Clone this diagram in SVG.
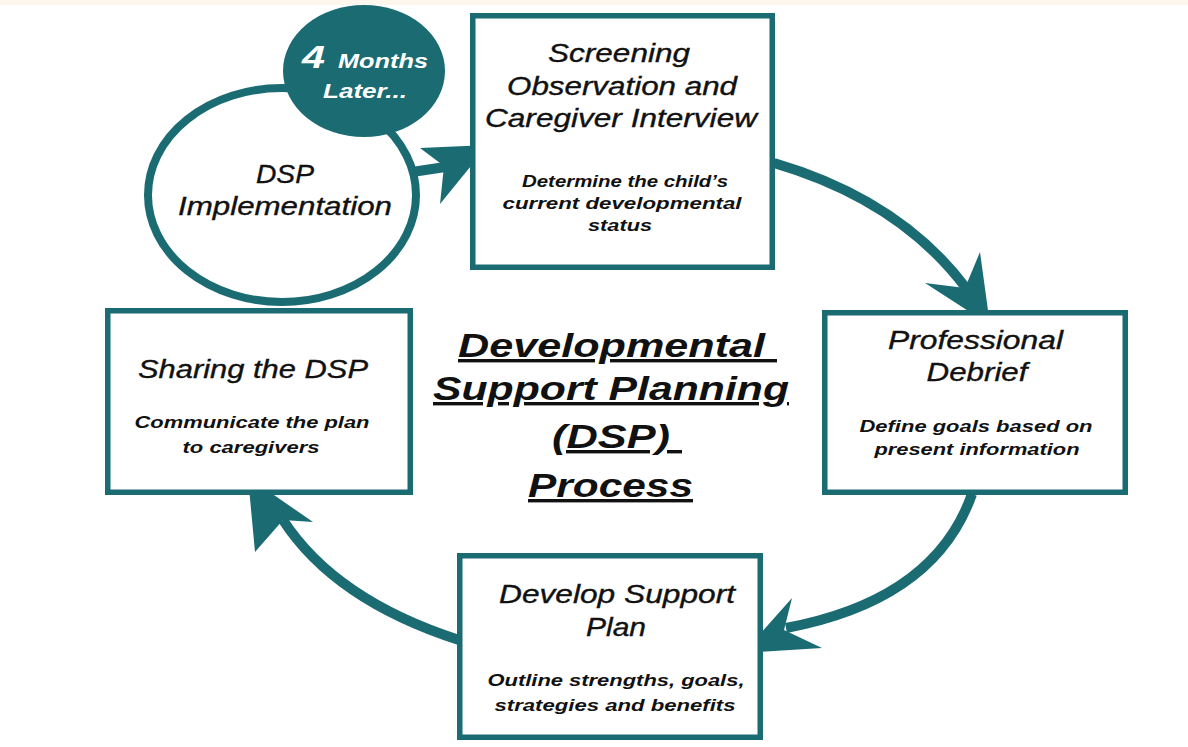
<svg xmlns="http://www.w3.org/2000/svg" width="1188" height="747" viewBox="0 0 1188 747">
<style>
.box{fill:#ffffff;stroke:#1b6b73;stroke-width:5.5}
.ell{fill:#ffffff;stroke:#1b6b73;stroke-width:8}
.dark{fill:#1b6b73}
.shaft{fill:none;stroke:#1b6b73;stroke-width:10;stroke-linecap:butt}
.head{fill:#1b6b73}
text{font-family:"Liberation Sans",Arial,Helvetica,sans-serif;font-style:italic;fill:#111111}
.h{font-size:25px;stroke:#111111;stroke-width:0.35}
.s{font-size:17px;font-weight:bold}
.t{font-size:34px;font-weight:bold;text-decoration:underline}
.w{fill:#ffffff;font-weight:bold}
</style>
<rect x="0" y="0" width="1188" height="747" fill="#ffffff"/>
<rect x="0" y="0" width="1188" height="5" fill="#fdf7ee"/>

<g id="node-implementation">
  <ellipse class="ell" cx="282" cy="195" rx="134" ry="107"/>
  <text class="h" x="285" y="183" text-anchor="middle" textLength="58" lengthAdjust="spacingAndGlyphs">DSP</text>
  <text class="h" x="285" y="215" text-anchor="middle" textLength="214" lengthAdjust="spacingAndGlyphs">Implementation</text>
</g>

<g id="node-months">
  <ellipse class="dark" cx="364" cy="71" rx="81" ry="66"/>
  <text class="w" x="302" y="68" font-size="32" textLength="23" lengthAdjust="spacingAndGlyphs">4</text>
  <text class="w" x="338" y="68" font-size="21" textLength="90" lengthAdjust="spacingAndGlyphs">Months</text>
  <text class="w" x="323" y="98" font-size="21" textLength="84" lengthAdjust="spacingAndGlyphs">Later...</text>
</g>

<g id="connectors">
  <!-- Implementation -> Screening -->
  <path class="shaft" d="M412,172 L452,166"/>
  <path class="head" d="M488,145 L420,148 L444,166 L440,204 Z"/>
  <!-- Screening -> Professional Debrief -->
  <path class="shaft" d="M774,163 Q900,200 966,288"/>
  <path class="head" d="M990,325 L980,252 L965,288 L925,283 Z"/>
  <!-- Professional Debrief -> Develop Support Plan -->
  <path class="shaft" d="M972,494 Q935,600 786,628"/>
  <path class="head" d="M743,653 L792,598 L784,630 L822,648 Z"/>
  <!-- Develop Support Plan -> Sharing -->
  <path class="shaft" d="M459,640 Q335,600 283,520"/>
  <path class="head" d="M248,477 L313,522 L283,520 L255,552 Z"/>
</g>

<g id="node-screening">
  <rect class="box" x="472.75" y="15.75" width="299.5" height="251.5"/>
  <text class="h" x="619" y="62" text-anchor="middle" textLength="142" lengthAdjust="spacingAndGlyphs">Screening</text>
  <text class="h" x="622" y="95" text-anchor="middle" textLength="230" lengthAdjust="spacingAndGlyphs">Observation and</text>
  <text class="h" x="621" y="127" text-anchor="middle" textLength="272" lengthAdjust="spacingAndGlyphs">Caregiver Interview</text>
  <text class="s" x="625" y="187" text-anchor="middle" textLength="206" lengthAdjust="spacingAndGlyphs">Determine the child’s</text>
  <text class="s" x="622" y="209" text-anchor="middle" textLength="239" lengthAdjust="spacingAndGlyphs">current developmental</text>
  <text class="s" x="620" y="231" text-anchor="middle" textLength="64" lengthAdjust="spacingAndGlyphs">status</text>
</g>

<g id="node-debrief">
  <rect class="box" x="824.75" y="312.75" width="300.5" height="179.5"/>
  <text class="h" x="975.5" y="349" text-anchor="middle" textLength="175" lengthAdjust="spacingAndGlyphs">Professional</text>
  <text class="h" x="977" y="381" text-anchor="middle" textLength="101" lengthAdjust="spacingAndGlyphs">Debrief</text>
  <text class="s" x="976" y="432" text-anchor="middle" textLength="233" lengthAdjust="spacingAndGlyphs">Define goals based on</text>
  <text class="s" x="977" y="455" text-anchor="middle" textLength="205" lengthAdjust="spacingAndGlyphs">present information</text>
</g>

<g id="node-develop">
  <rect class="box" x="459.75" y="555.75" width="300.5" height="181.5"/>
  <text class="h" x="617" y="603" text-anchor="middle" textLength="236" lengthAdjust="spacingAndGlyphs">Develop Support</text>
  <text class="h" x="616" y="636" text-anchor="middle" textLength="60" lengthAdjust="spacingAndGlyphs">Plan</text>
  <text class="s" x="616" y="686" text-anchor="middle" textLength="257" lengthAdjust="spacingAndGlyphs">Outline strengths, goals,</text>
  <text class="s" x="615" y="711" text-anchor="middle" textLength="241" lengthAdjust="spacingAndGlyphs">strategies and benefits</text>
</g>

<g id="node-sharing">
  <rect class="box" x="107.75" y="310.75" width="302.5" height="181.5"/>
  <text class="h" x="253" y="378" text-anchor="middle" textLength="230" lengthAdjust="spacingAndGlyphs">Sharing the DSP</text>
  <text class="s" x="252" y="428" text-anchor="middle" textLength="235" lengthAdjust="spacingAndGlyphs">Communicate the plan</text>
  <text class="s" x="251" y="453" text-anchor="middle" textLength="137" lengthAdjust="spacingAndGlyphs">to caregivers</text>
</g>

<g id="title">
  <text class="t" x="458" y="357" xml:space="preserve" textLength="319" lengthAdjust="spacingAndGlyphs">Developmental </text>
  <text class="t" x="433" y="400" textLength="356" lengthAdjust="spacingAndGlyphs">Support Planning</text>
  <text class="t" x="552" y="448" xml:space="preserve" textLength="130" lengthAdjust="spacingAndGlyphs">(DSP) </text>
  <text class="t" x="528" y="497" textLength="165" lengthAdjust="spacingAndGlyphs">Process</text>
</g>
</svg>
